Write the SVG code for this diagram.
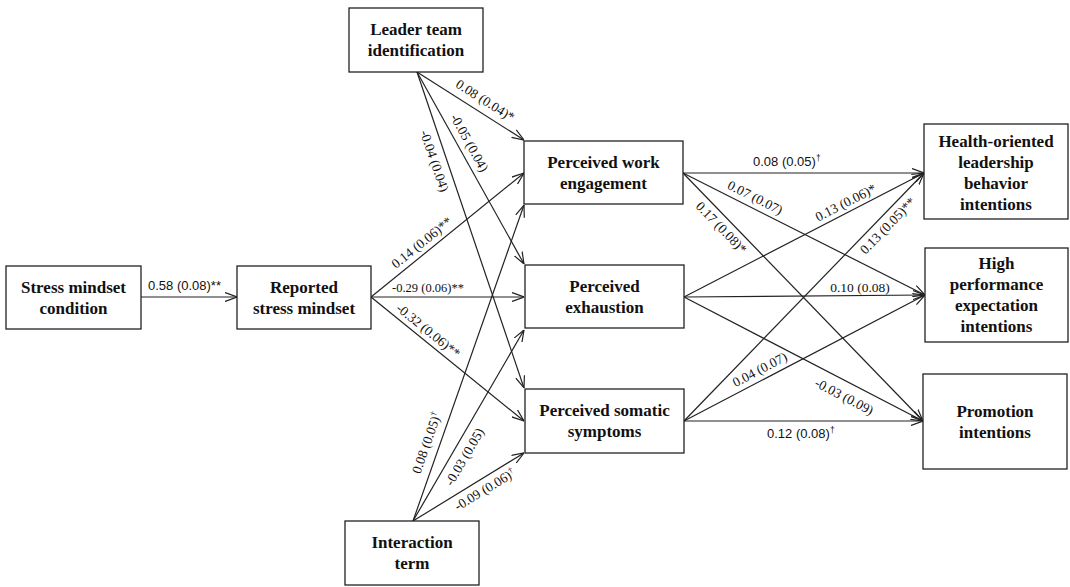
<svg xmlns="http://www.w3.org/2000/svg" width="1070" height="587" viewBox="0 0 1070 587">
<style>
.box{fill:#fff;stroke:#222;stroke-width:1.3}
.nt{font-family:'Liberation Serif','Times New Roman','DejaVu Serif',serif;font-weight:bold;font-size:17px;fill:#111;text-anchor:middle}
.c{fill:none;stroke:#222;stroke-width:1.2;marker-end:url(#arr)}
.lbl{font-family:'Liberation Serif','Times New Roman','DejaVu Serif',serif;font-size:13.5px;fill:#111;text-anchor:middle}
.lbs{font-family:'Liberation Sans',Arial,sans-serif;font-size:13px;fill:#111}
.sup{font-size:8.5px}
</style>
<defs>
<marker id="arr" viewBox="0 0 12 10" refX="12" refY="5" markerWidth="12" markerHeight="10" markerUnits="userSpaceOnUse" orient="auto">
<path d="M0,0.5 L12,5 L0,9.5" fill="none" stroke="#222" stroke-width="1.2"/>
</marker>
</defs>
<rect width="1070" height="587" fill="#fff"/>
<g id="connectors">
<line class="c" x1="141" y1="297" x2="237" y2="297"/>
<line class="c" x1="417" y1="72" x2="524" y2="140"/>
<line class="c" x1="417" y1="72" x2="524" y2="264"/>
<line class="c" x1="417" y1="72" x2="524" y2="388"/>
<line class="c" x1="371" y1="297" x2="524" y2="173"/>
<line class="c" x1="371" y1="297" x2="524" y2="297"/>
<line class="c" x1="371" y1="297" x2="524" y2="421"/>
<line class="c" x1="413" y1="521" x2="524" y2="205"/>
<line class="c" x1="413" y1="521" x2="524" y2="330"/>
<line class="c" x1="413" y1="521" x2="524" y2="453"/>
<line class="c" x1="683" y1="173" x2="924" y2="173"/>
<line class="c" x1="683" y1="173" x2="925" y2="295"/>
<line class="c" x1="683" y1="173" x2="923" y2="421"/>
<line class="c" x1="684" y1="297" x2="924" y2="173"/>
<line class="c" x1="684" y1="297" x2="925" y2="295"/>
<line class="c" x1="684" y1="297" x2="923" y2="421"/>
<line class="c" x1="684" y1="421" x2="924" y2="173"/>
<line class="c" x1="684" y1="421" x2="925" y2="295"/>
<line class="c" x1="684" y1="421" x2="923" y2="421"/>
</g>
<g id="labels">
<text class="lbs" x="148" y="290">0.58 (0.08)**</text>
<text class="lbl" transform="translate(485,101) rotate(32.4)" y="4">0.08 (0.04)*</text>
<text class="lbl" transform="translate(469,143) rotate(60.9)" y="4">-0.05 (0.04)</text>
<text class="lbl" transform="translate(434,161) rotate(71.3)" y="4">-0.04 (0.04)</text>
<text class="lbl" transform="translate(422,243) rotate(-39)" y="4">0.14 (0.06)**</text>
<text class="lbl" x="428" y="292" style="font-size:12.5px">-0.29 (0.06)**</text>
<text class="lbl" transform="translate(428,331) rotate(39)" y="4">-0.32 (0.06)**</text>
<text class="lbl" transform="translate(427,443) rotate(-70.6)" y="4">0.08 (0.05)<tspan class="sup" dy="-5">†</tspan></text>
<text class="lbl" transform="translate(465,457) rotate(-59.7)" y="4">-0.03 (0.05)</text>
<text class="lbl" transform="translate(485,490) rotate(-31.1)" y="4">-0.09 (0.06)<tspan class="sup" dy="-5">†</tspan></text>
<text class="lbs" x="753" y="166">0.08 (0.05)<tspan class="sup" dy="-5">†</tspan></text>
<text class="lbl" transform="translate(755,198) rotate(26.8)" y="4">0.07 (0.07)</text>
<text class="lbl" transform="translate(721,228) rotate(45.9)" y="4">0.17 (0.08)*</text>
<text class="lbl" transform="translate(846,203) rotate(-27.1)" y="4">0.13 (0.06)*</text>
<text class="lbl" x="860" y="292">0.10 (0.08)</text>
<text class="lbl" transform="translate(888,226) rotate(-45.8)" y="4">0.13 (0.05)**</text>
<text class="lbl" transform="translate(760,370) rotate(-27.6)" y="4">0.04 (0.07)</text>
<text class="lbl" transform="translate(844,397) rotate(27.4)" y="4">-0.03 (0.09)</text>
<text class="lbs" x="767" y="438">0.12 (0.08)<tspan class="sup" dy="-5">†</tspan></text>
</g>
<g id="node-leader">
<rect class="box" x="349" y="8" width="134" height="64"/>
<text class="nt" x="416" y="35">Leader team</text>
<text class="nt" x="416" y="56">identification</text>
</g>
<g id="node-stress-condition">
<rect class="box" x="6" y="266" width="135" height="63"/>
<text class="nt" x="73.5" y="293">Stress mindset</text>
<text class="nt" x="73.5" y="314">condition</text>
</g>
<g id="node-reported">
<rect class="box" x="237" y="266" width="134" height="63"/>
<text class="nt" x="304" y="293">Reported</text>
<text class="nt" x="304" y="314">stress mindset</text>
</g>
<g id="node-interaction">
<rect class="box" x="345" y="521" width="134" height="64"/>
<text class="nt" x="412" y="548">Interaction</text>
<text class="nt" x="412" y="569">term</text>
</g>
<g id="node-engagement">
<rect class="box" x="524" y="141" width="159" height="63"/>
<text class="nt" x="603.5" y="168">Perceived work</text>
<text class="nt" x="603.5" y="189">engagement</text>
</g>
<g id="node-exhaustion">
<rect class="box" x="525" y="265" width="159" height="63"/>
<text class="nt" x="604.5" y="292">Perceived</text>
<text class="nt" x="604.5" y="313">exhaustion</text>
</g>
<g id="node-somatic">
<rect class="box" x="525" y="389" width="159" height="64"/>
<text class="nt" x="604.5" y="416">Perceived somatic</text>
<text class="nt" x="604.5" y="437">symptoms</text>
</g>
<g id="node-health">
<rect class="box" x="924" y="124" width="144" height="95"/>
<text class="nt" x="996" y="146.5">Health-oriented</text>
<text class="nt" x="996" y="167.5">leadership</text>
<text class="nt" x="996" y="188.5">behavior</text>
<text class="nt" x="996" y="209.5">intentions</text>
</g>
<g id="node-highperf">
<rect class="box" x="925" y="248" width="143" height="94"/>
<text class="nt" x="996.5" y="269">High</text>
<text class="nt" x="996.5" y="290">performance</text>
<text class="nt" x="996.5" y="311">expectation</text>
<text class="nt" x="996.5" y="332">intentions</text>
</g>
<g id="node-promotion">
<rect class="box" x="923" y="374" width="144" height="95"/>
<text class="nt" x="995" y="417">Promotion</text>
<text class="nt" x="995" y="438">intentions</text>
</g>
</svg>
